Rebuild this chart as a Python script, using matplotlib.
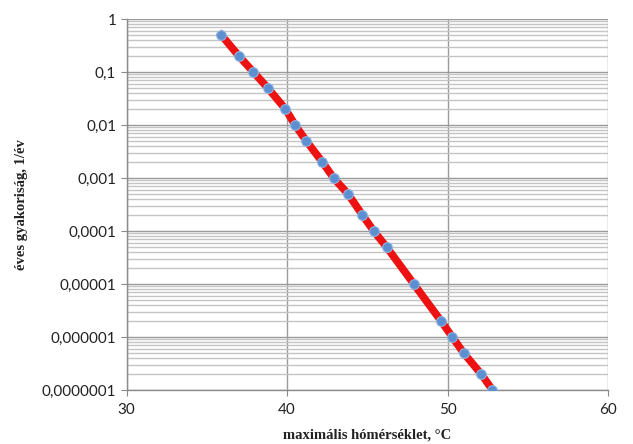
import matplotlib
matplotlib.use("Agg")
import matplotlib.pyplot as plt
from matplotlib.ticker import FixedLocator, LogLocator, NullFormatter

# Data
temperature = [35.9, 37.0, 37.9, 38.8, 39.9, 40.5, 41.2, 42.2, 42.9, 43.8,
               44.7, 45.4, 46.2, 47.9, 49.6, 50.3, 51.0, 52.1, 52.8]
frequency = [0.5, 0.2, 0.1, 0.05, 0.02, 0.01, 0.005, 0.002, 0.001, 0.0005,
             0.0002, 0.0001, 0.00005, 0.00001, 0.000002, 0.000001,
             0.0000005, 0.0000002, 0.0000001]
x_ticks = [30, 40, 50, 60]
y_ticks = [1, 0.1, 0.01, 0.001, 0.0001, 0.00001, 0.000001, 0.0000001]
y_tick_labels = ["1", "0,1", "0,01", "0,001", "0,0001", "0,00001",
                 "0,000001", "0,0000001"]

fig = plt.figure(figsize=(6.33, 4.44), dpi=100)
ax = fig.add_axes([0.2, 0.1216, 0.7605, 0.8356])

ax.set_yscale("log")
ax.set_xlim(30, 60)
ax.set_ylim(1e-7, 1)

ax.xaxis.set_major_locator(FixedLocator(x_ticks))
ax.yaxis.set_major_locator(FixedLocator(y_ticks))
ax.set_yticklabels(y_tick_labels)
ax.yaxis.set_minor_locator(LogLocator(base=10, subs=range(2, 10), numticks=20))
ax.yaxis.set_minor_formatter(NullFormatter())

ax.grid(True, which="major", axis="both", color="#9a9a9a", linewidth=1.0)
ax.grid(True, which="minor", axis="y", color="#c4c4c4", linewidth=1.0)
ax.set_axisbelow(True)

ax.plot(temperature, frequency, color="#ee1111", linewidth=5.5, zorder=3)
ax.plot(temperature, frequency, linestyle="none", marker="o", markersize=7,
        markerfacecolor="#5b8fd0", markeredgecolor="#8fb4e3",
        markeredgewidth=0.8, zorder=4)

for side in ["top", "right"]:
    ax.spines[side].set_visible(False)
for side in ["left", "bottom"]:
    ax.spines[side].set_color("#8a8a8a")
    ax.spines[side].set_linewidth(1.0)

ax.tick_params(axis="both", which="major", direction="out", length=4,
               color="#8a8a8a", labelsize=11, labelcolor="#222222")
ax.tick_params(axis="x", which="major", pad=5)
ax.tick_params(axis="y", which="minor", length=0)
for lab in ax.get_xticklabels() + ax.get_yticklabels():
    lab.set_family("Lato")

ax.set_xlabel("maximális hómérséklet, °C", family="Liberation Serif",
              fontweight="bold", fontsize=10.5, color="#222222", labelpad=9)
ax.set_ylabel("éves gyakoriság, 1/év", family="Liberation Serif",
              fontweight="bold", fontsize=10.5, color="#222222", labelpad=10)

fig.savefig("out.png", dpi=100)
